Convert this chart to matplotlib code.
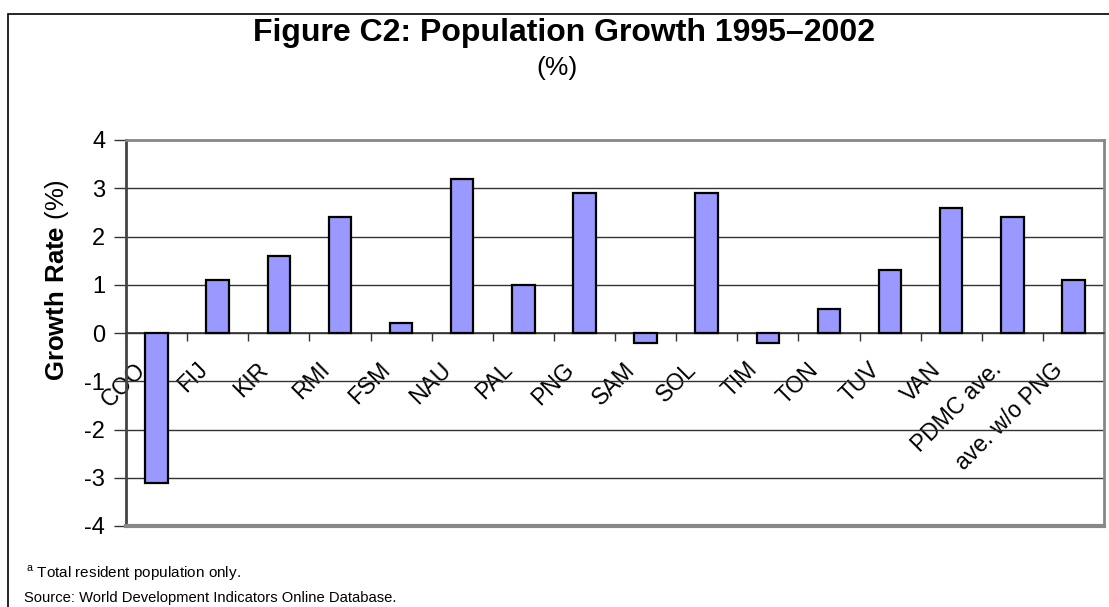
import matplotlib
matplotlib.use('Agg')
import matplotlib.pyplot as plt
import matplotlib.transforms as mtransforms
import numpy as np

# chart data
countries = ['COO', 'FIJ', 'KIR', 'RMI', 'FSM', 'NAU', 'PAL', 'PNG', 'SAM',
             'SOL', 'TIM', 'TON', 'TUV', 'VAN', 'PDMC ave.', 'ave. w/o PNG']
growth = [-3.1, 1.1, 1.6, 2.4, 0.2, 3.2, 1.0, 2.9, -0.2,
          2.9, -0.2, 0.5, 1.3, 2.6, 2.4, 1.1]
yticks = [-4, -3, -2, -1, 0, 1, 2, 3, 4]

plt.rcParams['font.family'] = ['Liberation Sans', 'DejaVu Sans']
plt.rcParams['mathtext.fontset'] = 'custom'
plt.rcParams['mathtext.rm'] = 'Liberation Sans'
plt.rcParams['mathtext.bf'] = 'Liberation Sans:bold'

W, H = 1109, 607
fig = plt.figure(figsize=(W / 100, H / 100), dpi=100)

# outer frame of the figure box
fig.patches.append(plt.Rectangle((8 / W, -0.1), 1.2, 1 - 14 / H + 0.1,
                                 transform=fig.transFigure, fill=False,
                                 edgecolor='black', lw=1.2))

# plot area in pixels: left 126, right 1104, top 140, bottom 526
ax = fig.add_axes([126 / W, 1 - 526 / H, (1104 - 126) / W, (526 - 140) / H])

x = np.arange(len(countries))
ax.bar(x, growth, width=0.37, color='#9999FF', edgecolor='black', lw=1.6, zorder=3)

ax.set_xlim(-0.5, len(countries) - 0.5)
ax.set_ylim(-4, 4)
ax.set_yticks(yticks)
ax.set_yticklabels([str(v) for v in yticks], fontsize=17)
ax.yaxis.grid(True, color='#333333', lw=1.0, zorder=0)
ax.tick_params(axis='y', direction='out', length=9, width=1, color='#333333', pad=6)

# category axis crosses at zero
ax.spines['bottom'].set_position(('data', 0))
ax.spines['bottom'].set_color('#333333')
ax.spines['bottom'].set_linewidth(1.2)
ax.spines['left'].set_color('#444444')
ax.spines['left'].set_linewidth(2)
for s in ['top', 'right']:
    ax.spines[s].set_color('#888888')
    ax.spines[s].set_linewidth(2)
ax.axhline(-4, color='#888888', lw=3, clip_on=False, zorder=4)

ax.set_xticks(np.arange(len(countries) + 1) - 0.5)
ax.set_xticklabels([])
ax.tick_params(axis='x', which='major', direction='out', length=6, width=1, color='#333333')
ax.set_xticks(x, minor=True)
ax.set_xticklabels(countries, minor=True, rotation=45, ha='right', va='top', fontsize=16.5)
ax.tick_params(axis='x', which='minor', length=0, pad=18)
shift = mtransforms.ScaledTranslation(-6 / 100, 0, fig.dpi_scale_trans)
for lbl in ax.get_xticklabels(minor=True):
    lbl.set_transform(lbl.get_transform() + shift)

fig.text(57 / W, 1 - 280 / H, r'$\mathbf{Growth\ Rate}$ (%)', rotation=90,
         ha='center', va='center', fontsize=18.5)

fig.text(564 / W, 1 - 33 / H, 'Figure C2: Population Growth 1995\u20132002',
         ha='center', va='center', fontsize=23, fontweight='bold')
fig.text(557 / W, 1 - 68 / H, '(%)', ha='center', va='center', fontsize=19)

fig.text(26 / W, 1 - 573 / H, r'$^{\mathrm{a}}$ Total resident population only.',
         ha='left', va='center', fontsize=11)
fig.text(24 / W, 1 - 598 / H, 'Source: World Development Indicators Online Database.',
         ha='left', va='center', fontsize=10.6)

fig.savefig('out.png', dpi=100)
